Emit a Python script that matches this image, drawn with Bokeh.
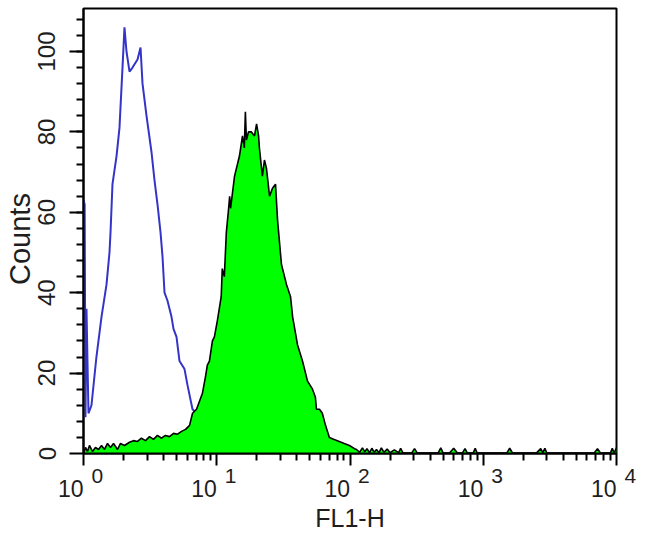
from bokeh.plotting import figure
from bokeh.models import Range1d, FixedTicker, LogAxis
from bokeh.embed import file_html
from bokeh.resources import INLINE

# ---- data (FL1-H value, counts) ----
blue_x = [1.00, 1.02, 1.035, 1.053, 1.09, 1.148, 1.25, 1.365, 1.488, 1.567, 1.595, 1.65, 1.77,
          1.862, 1.962, 2.03, 2.102, 2.215, 2.332, 2.543, 2.679, 2.773, 2.971, 3.238, 3.41,
          3.592, 3.785, 3.917, 4.055, 4.27, 4.575, 4.736, 4.989, 5.254, 5.728, 6.033, 6.577,
          7.047, 8.09, 9.14]
blue_y = [63, 62, 9, 36, 10, 12, 24, 34, 42, 50, 55, 67, 74, 81, 96, 106, 100, 95, 96, 98, 101,
          92, 84, 75, 68, 62, 55, 49, 40, 38, 34, 31, 29, 23, 21, 17, 11, 10, 4, 0]

green_x = [1.0, 1.035, 1.071, 1.109, 1.168, 1.23, 1.296, 1.365, 1.437, 1.514, 1.595, 1.68, 1.8,
           1.895, 2.03, 2.215, 2.37, 2.543, 2.72, 2.92, 3.13, 3.35, 3.59, 3.85, 4.12, 4.42, 4.74,
           5.08, 5.44, 5.83, 6.25, 6.58, 7.05, 7.42, 7.81, 8.22, 8.5, 8.81, 9.28, 9.6, 10.1, 10.8,
           11.0, 11.4, 11.8, 12.2, 12.5, 12.7, 13.6, 14.8, 15.6, 16.1, 16.4, 16.7, 17.3, 18.2,
           19.2, 19.9, 20.6, 20.9, 22.0, 22.8, 23.6, 24.9, 26.2, 27.6, 28.6, 30.6, 33.4, 35.8,
           37.1, 40.4, 44.0, 48.0, 52.3, 55.0, 56.0, 59.0, 62.0, 65.5, 70.0, 76.0, 83.0, 90.5,
           99, 108]
green_y = [0, 1.5, 0.5, 2, 0.5, 1.5, 1, 2, 1, 2.5, 1.5, 2.5, 1, 2.5, 2, 2.8, 3.2, 3, 3.8, 3.2,
           4.2, 3.5, 4.5, 3.8, 4.5, 4.2, 5, 4.8, 5.5, 6, 7, 10, 11, 13, 15, 19, 22, 23, 28, 29,
           33, 39, 46, 44, 55, 60, 64, 61, 69, 74, 79, 76, 85, 78, 80, 80, 79, 82, 79, 76, 69,
           73, 71, 64, 66, 67, 58, 47, 42, 39, 34, 27, 23, 18, 16, 14, 11, 11, 10, 7, 4, 3.5, 3,
           2.5, 2, 1.2]
tail_x = [112, 118, 124, 129, 134, 140, 146, 152, 158, 165, 172, 180, 190, 200, 215, 232, 240,
          250, 290, 305, 320, 400, 460, 480, 500, 560, 600, 640, 700, 730, 760, 840, 870, 900,
          1200, 1500, 1580, 1660, 2500, 2700, 2800, 2900, 3000, 6800, 7200, 7600, 9000, 9300,
          9600, 10000]
tail_y = [1.0, 0.3, 1.4, 0.4, 1.2, 0.2, 1.3, 0.3, 1.0, 0.2, 1.4, 0.3, 1.1, 0.2, 0.9, 0.2, 1.3,
          0.1, 0.1, 1.2, 0.1, 0.1, 0.2, 1.4, 0.1, 0.2, 1.3, 0.1, 0.2, 1.2, 0.1, 0.1, 1.3, 0.1,
          0.1, 0.1, 1.3, 0.1, 0.1, 1.2, 0.2, 1.3, 0.1, 0.1, 1.2, 0.1, 0.1, 1.3, 0.1, 1.4]

x_ticks = [1, 10, 100, 1000, 10000]
x_base = "10"
x_exponents = ["0", "1", "2", "3", "4"]
y_ticks = [0, 20, 40, 60, 80, 100]

FONT = "Liberation Sans"
TXT = "#1e1e1e"
FS = "\u2007"   # figure space (invisible padding)
TS = "\u2009"   # thin space

gx = green_x + tail_x
gy = green_y + tail_y

p = figure(width=650, height=536, x_axis_type="log",
           x_range=Range1d(1, 1e4), y_range=Range1d(0, 110.7),
           output_backend="svg", toolbar_location=None,
           min_border_left=83, min_border_right=34, min_border_top=8, min_border_bottom=83)
p.xgrid.visible = False
p.ygrid.visible = False
p.outline_line_color = "black"
p.outline_line_width = 2
p.background_fill_color = "white"
p.border_fill_color = "white"

p.line(blue_x, blue_y, line_color="#3434c8", line_width=2)
p.varea(x=gx, y1=[0] * len(gx), y2=gy, fill_color="#00ff00")
p.line(gx, gy, line_color="black", line_width=1.6)

# x axis (nearest the frame): ticks and exponents
xa = p.xaxis[0]
xa.ticker = FixedTicker(ticks=x_ticks,
                        minor_ticks=[m * 10 ** k for k in range(4) for m in range(2, 10)])
xa.major_label_overrides = {t: FS + FS + TS + e for t, e in zip(x_ticks, x_exponents)}
xa.major_label_text_font = FONT
xa.major_label_text_font_size = "21px"
xa.major_label_text_color = TXT
xa.major_label_standoff = -2
xa.major_tick_out = 12
xa.major_tick_in = 0
xa.minor_tick_out = 7
xa.minor_tick_in = 0
xa.axis_line_width = 2
xa.major_tick_line_width = 2
xa.minor_tick_line_width = 2

# second x axis below: the "10" bases and the axis title
xb = LogAxis(ticker=FixedTicker(ticks=x_ticks, minor_ticks=[]))
xb.major_label_overrides = {t: x_base + FS + FS for t in x_ticks}
xb.major_label_text_font = FONT
xb.major_label_text_font_size = "23px"
xb.major_label_text_color = TXT
xb.major_label_standoff = -14
xb.major_tick_out = 0
xb.major_tick_in = 0
xb.minor_tick_out = 0
xb.minor_tick_in = 0
xb.axis_line_color = None
xb.major_tick_line_color = None
xb.minor_tick_line_color = None
xb.axis_label = "FL1-H"
xb.axis_label_text_font = FONT
xb.axis_label_text_font_size = "25px"
xb.axis_label_text_font_style = "normal"
xb.axis_label_text_color = TXT
xb.axis_label_standoff = -1
p.add_layout(xb, "below")

# y axis
ya = p.yaxis[0]
ya.ticker = FixedTicker(ticks=y_ticks, minor_ticks=list(range(4, 112, 4)))
ya.major_label_orientation = "parallel"
ya.major_label_text_font = FONT
ya.major_label_text_font_size = "24px"
ya.major_label_text_color = TXT
ya.major_label_standoff = 14
ya.major_tick_out = 14
ya.major_tick_in = 0
ya.minor_tick_out = 7
ya.minor_tick_in = 0
ya.axis_line_width = 2
ya.major_tick_line_width = 2
ya.minor_tick_line_width = 2
ya.axis_label = "Counts" + FS
ya.axis_label_text_font = FONT
ya.axis_label_text_font_size = "29px"
ya.axis_label_text_font_style = "normal"
ya.axis_label_text_color = TXT
ya.axis_label_standoff = 0

open("out.html", "w").write(file_html(p, INLINE))
